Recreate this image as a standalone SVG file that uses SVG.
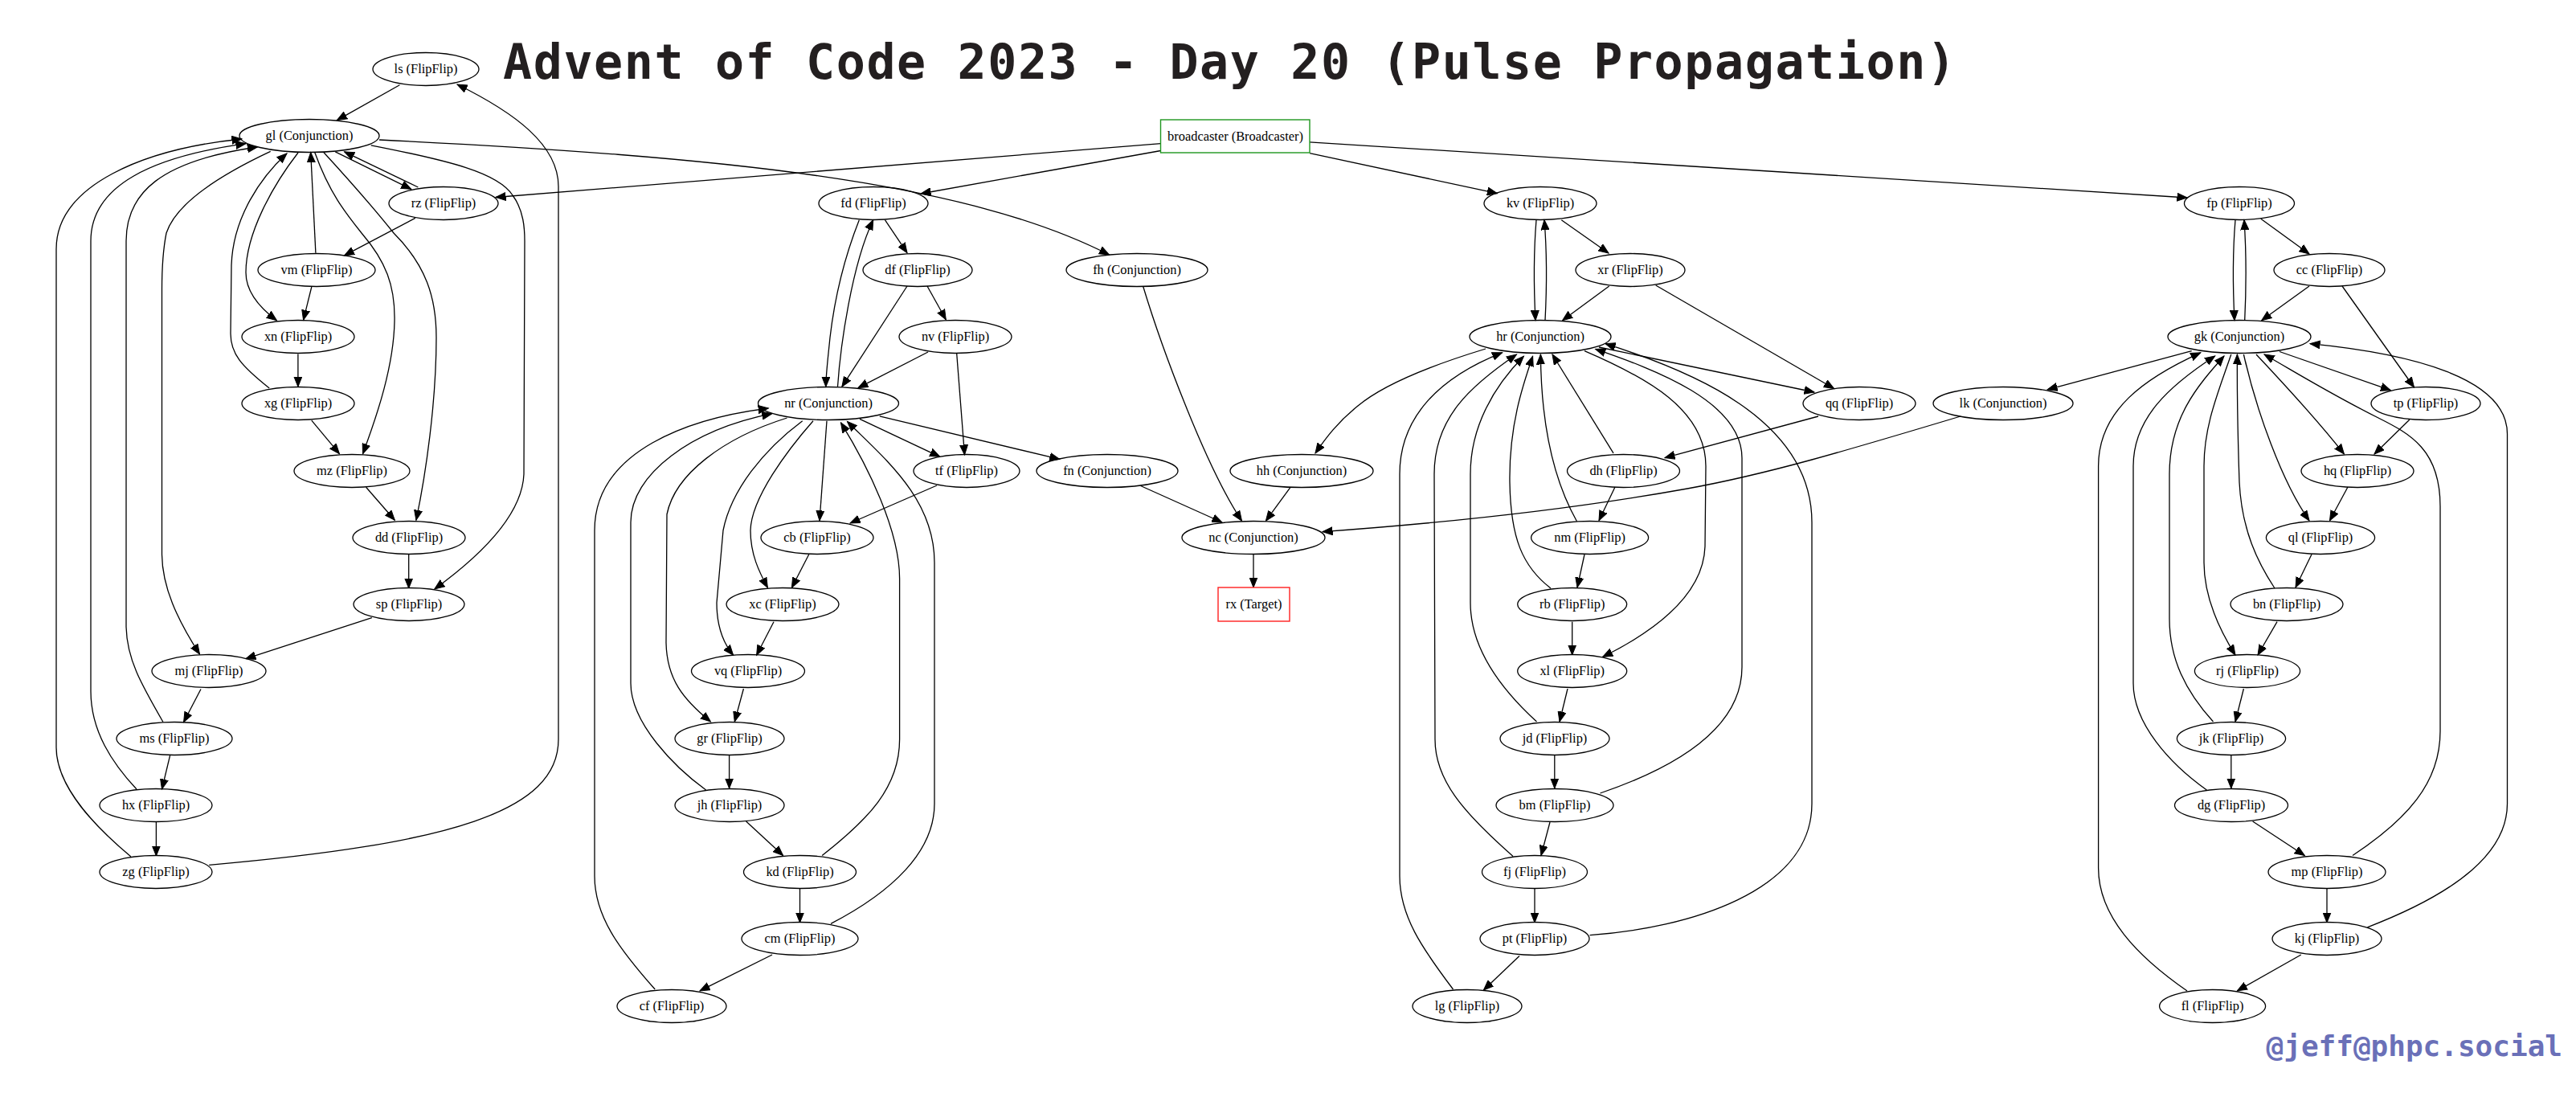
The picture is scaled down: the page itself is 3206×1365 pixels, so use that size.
<svg xmlns="http://www.w3.org/2000/svg" width="3206" height="1365" viewBox="0 0 3206 1365">
<style>
.node ellipse{fill:none;stroke:#000;stroke-width:1.3}
.node rect{fill:none;stroke-width:1.4}
.node text{font-family:"Liberation Serif","Times New Roman",serif;font-size:16.4px;text-anchor:middle;fill:#000}
.edges path{fill:none;stroke:#000;stroke-width:1.3;marker-end:url(#arrow)}
.title{font-family:"DejaVu Sans Mono","Liberation Mono",monospace;font-weight:bold;fill:#231f20}
</style>
<defs>
<marker id="arrow" markerUnits="userSpaceOnUse" markerWidth="14" markerHeight="11" refX="12.5" refY="5" orient="auto" viewBox="0 0 14 10">
<path d="M0,0 L12.5,5 L0,10 z" fill="#000" stroke="#000" stroke-width="1"/>
</marker>
</defs>
<rect x="0" y="0" width="3206" height="1365" fill="#fff"/>
<text class="title" x="626" y="97.5" font-size="60" textLength="1808" lengthAdjust="spacing">Advent of Code 2023 - Day 20 (Pulse Propagation)</text>
<text class="title" x="3189" y="1314" font-size="36" text-anchor="end" style="fill:#6a70b8">@jeff@phpc.social</text>

<g class="edges" id="edges">
<path id="e-ls-gl" d="M497.4,105.8 L419.4,149.6"/>
<path id="e-gl-rz" d="M417.3,188.8 L511.7,235.3"/>
<path id="e-rz-gl" d="M520.4,233 L428.6,188.8"/>
<path id="e-rz-vm" d="M516.8,271.4 L428.6,317.9"/>
<path id="e-vm-gl" d="M392.9,314.7 L386.7,189.7"/>
<path id="e-vm-xn" d="M387.8,357 L377.6,398.2"/>
<path id="e-gl-xn" d="M371,190 C340,230 306,290 306,339 C306,362 322,382 344.4,398.7"/>
<path id="e-xn-xg" d="M370.9,440.6 L370.9,481.2"/>
<path id="e-xg-gl" d="M335.2,483 C300,455 287,440 287,415 L288,330 C290,270 325,220 357,191"/>
<path id="e-xg-mz" d="M387.8,523.2 L422.4,564.7"/>
<path id="e-gl-mz" d="M391.8,189.7 C410,240 430,265 450,290 C480,325 492,355 491,400 C490,455 470,515 451.5,564.7"/>
<path id="e-gl-dd" d="M403,189.7 C440,230 470,265 490,290 C530,330 543,370 543,420 C543,500 530,590 517.9,647.3"/>
<path id="e-mz-dd" d="M455.6,606.2 L491.3,647.3"/>
<path id="e-dd-sp" d="M508.7,689.7 L508.7,732"/>
<path id="e-gl-sp" d="M461.7,180.8 C560,200 620,215 638,243 C652,262 653,285 653,300 L652,590 C650,640 600,690 540.8,733"/>
<path id="e-gl-mj" d="M336.7,188.4 C280,215 220,250 207,290 C202,315 201.5,340 201.5,360 L201.5,690 C202,730 220,770 248.5,814"/>
<path id="e-sp-mj" d="M462.8,768.6 L306,819.6"/>
<path id="e-mj-ms" d="M250,857.5 L228.6,898.5"/>
<path id="e-ms-gl" d="M203,898.5 C175,850 158,820 157,780 L157,300 C157,240 200,200 320.4,183"/>
<path id="e-ms-hx" d="M211.7,939.6 L201.5,982"/>
<path id="e-hx-gl" d="M170,982 C140,950 113,910 113,860 L113,300 C113,230 190,195 306,178.6"/>
<path id="e-hx-zg" d="M194.4,1023 L194.4,1065"/>
<path id="e-zg-gl" d="M163,1066 C120,1030 70,980 70,930 L70,310 C70,230 180,185 301,173"/>
<path id="e-zg-ls" d="M260.2,1076.4 C560,1050 695,1010 695,920 L695,232 C695,180 640,140 569,105"/>
<path id="e-gl-fh" d="M472,174 C900,195 1200,225 1380.4,317"/>
<path id="e-bc-rz" d="M1444.6,178.6 L617,245.5"/>
<path id="e-bc-fd" d="M1444.6,187.5 L1146,241"/>
<path id="e-bc-kv" d="M1630,190.6 L1863.4,240.6"/>
<path id="e-bc-fp" d="M1630,176.8 L2722,246"/>

<path id="e-fd-df" d="M1101.4,273.7 L1129,314.7"/>
<path id="e-fd-nr" d="M1069.3,273.7 C1055,310 1040,360 1033,420 C1030,450 1028,465 1027.8,481.2"/>
<path id="e-nr-fd" d="M1042.5,481.2 C1046,430 1060,330 1086.7,273.7"/>
<path id="e-df-nr" d="M1129,356 L1047.9,481.2"/>
<path id="e-df-nv" d="M1154,356 L1177.3,397.8"/>
<path id="e-nv-nr" d="M1155,438 L1068,482.6"/>
<path id="e-nv-tf" d="M1190.7,440 L1200.5,566"/>
<path id="e-nr-tf" d="M1070,521.4 L1169.7,568.3"/>
<path id="e-nr-fn" d="M1094.7,517.9 L1318.8,571.4"/>
<path id="e-nr-cb" d="M1029,523.7 L1020,647.8"/>
<path id="e-tf-cb" d="M1166,604 L1058,651"/>
<path id="e-cb-xc" d="M1006.8,689.7 L985.4,731.2"/>
<path id="e-nr-xc" d="M1012,523.7 C980,560 935,620 934,660 C934,690 945,712 955.4,731.2"/>
<path id="e-xc-vq" d="M963,773.7 L941.6,815.2"/>
<path id="e-nr-vq" d="M998.7,523.7 C950,560 910,610 900,660 L892,750 C892,780 900,800 912.6,815.2"/>
<path id="e-vq-gr" d="M925.4,857 L914.3,898"/>
<path id="e-nr-gr" d="M979.5,520 C900,545 840,590 830,640 L829,800 C830,845 850,870 884.4,898"/>
<path id="e-gr-jh" d="M907.6,939.5 L907.6,981"/>
<path id="e-jh-nr" d="M878.6,983 C840,955 785,900 785,850 L785,650 C785,590 860,535 960.8,514.7"/>
<path id="e-jh-kd" d="M928.6,1022 L974.6,1064.5"/>
<path id="e-kd-nr" d="M1023.2,1064.5 C1080,1020 1119.6,980 1119.6,920 L1119.6,720 C1119.6,660 1080,580 1046.5,525.9"/>
<path id="e-kd-cm" d="M995.5,1106 L995.5,1148"/>
<path id="e-cm-nr" d="M1034,1149.4 C1110,1110 1163,1060 1163,1000 L1163,700 C1163,620 1100,570 1054.5,524.5"/>
<path id="e-cm-cf" d="M961,1188 L871,1232.9"/>
<path id="e-cf-nr" d="M815.2,1231 C770,1180 740,1140 740,1090 L740,660 C740,560 860,520 956.3,508"/>
<path id="e-fh-nc" d="M1422.8,356.7 C1445,430 1500,580 1545.5,648.2"/>
<path id="e-fn-nc" d="M1419.6,604.5 L1521,650"/>
<path id="e-hh-nc" d="M1605.8,606.7 L1575.4,648.2"/>
<path id="e-nc-rx" d="M1560,689.3 L1560,731"/>
<path id="e-hr-hh" d="M1849,434 C1780,455 1720,480 1690,505 C1665,525 1650,545 1637,564"/>
<path id="e-lk-nc" d="M2440,518 C2300,560 2200,590 2100,608 C1950,635 1780,652 1646,661.6"/>

<path id="e-kv-hr" d="M1912,273.7 C1909,310 1909,360 1911,398.7"/>
<path id="e-hr-kv" d="M1923,398.7 C1925,360 1925,310 1922,273.7"/>
<path id="e-kv-xr" d="M1943.3,273.7 L2002,315"/>
<path id="e-xr-hr" d="M2002.7,356 L1944.6,398.7"/>
<path id="e-xr-qq" d="M2060.7,355 L2282.6,483.5"/>
<path id="e-hr-qq" d="M1990,432 L2258,488"/>
<path id="e-pt-hr" d="M1978.6,1163.6 C2100,1155 2255,1110 2255,1000 L2255,650 C2255,520 2100,460 1998,427.7"/>
<path id="e-bm-hr" d="M1991.5,987 C2100,950 2168,900 2168,830 L2168,570 C2168,500 2060,460 1985.7,434.4"/>
<path id="e-hr-xl" d="M1972,436.6 C2050,470 2123,510 2123,580 L2122,680 C2120,740 2060,785 1994.6,817.4"/>
<path id="e-qq-dh" d="M2263,518 L2072,569.6"/>
<path id="e-dh-hr" d="M2008,563.8 L1932,441"/>
<path id="e-dh-nm" d="M2010,606 L1990,647.8"/>
<path id="e-nm-hr" d="M1962.5,648.7 C1935,600 1918,530 1917.4,441"/>
<path id="e-nm-rb" d="M1972,690 L1963,731"/>
<path id="e-rb-hr" d="M1930,732 C1895,705 1880,670 1879,600 C1878,530 1895,480 1907.6,443.3"/>
<path id="e-rb-xl" d="M1956.7,773.7 L1956.7,815"/>
<path id="e-xl-jd" d="M1951,857 L1941,898"/>
<path id="e-jd-hr" d="M1912.5,898 C1860,850 1830,800 1830,750 L1830,590 C1830,530 1860,480 1896.4,443.3"/>
<path id="e-jd-bm" d="M1934.8,939.5 L1934.8,981"/>
<path id="e-bm-fj" d="M1929,1023 L1918,1064.5"/>
<path id="e-fj-hr" d="M1883,1065.4 C1820,1010 1786,970 1786,920 L1785,590 C1785,520 1830,480 1887.5,441"/>
<path id="e-fj-pt" d="M1910,1106 L1910,1148"/>
<path id="e-pt-lg" d="M1891,1189.5 L1846.4,1232"/>
<path id="e-lg-hr" d="M1808.5,1231 C1770,1180 1742,1140 1742,1090 L1742,590 C1742,520 1790,470 1869.6,438.8"/>

<path id="e-fp-gk" d="M2782,273.7 C2779,310 2779,360 2781,398.7"/>
<path id="e-gk-fp" d="M2793.7,398.7 C2795.5,360 2795.5,310 2793,273.7"/>
<path id="e-fp-cc" d="M2813.8,272.3 L2874,316"/>
<path id="e-cc-gk" d="M2874,356 L2814.7,398.7"/>
<path id="e-cc-tp" d="M2915,356 L3004.5,482"/>
<path id="e-gk-tp" d="M2837,437.5 L2975.4,485.7"/>
<path id="e-gk-lk" d="M2727.7,436.6 L2548,484.8"/>
<path id="e-gk-hq" d="M2808,441 C2840,475 2890,530 2917.4,565"/>
<path id="e-tp-hq" d="M2999,522 L2955,565"/>
<path id="e-hq-ql" d="M2922,606 L2899.5,647.8"/>
<path id="e-gk-ql" d="M2792.4,441 C2808,510 2840,600 2874,647.8"/>
<path id="e-ql-bn" d="M2877,689.7 L2857,731"/>
<path id="e-bn-gk" d="M2831,732 C2810,700 2790,660 2787,600 C2785,540 2784,500 2784.4,441"/>
<path id="e-bn-rj" d="M2834,773.7 L2810,815"/>
<path id="e-gk-rj" d="M2776.8,441 C2760,490 2743,530 2743,580 L2743,700 C2743,740 2760,780 2782,815"/>
<path id="e-rj-jk" d="M2792.4,857 L2782,898"/>
<path id="e-jk-gk" d="M2754.5,898 C2720,860 2700,820 2700,770 L2700,590 C2700,520 2735,480 2768,443"/>
<path id="e-jk-dg" d="M2776.8,939.5 L2776.8,981"/>
<path id="e-dg-gk" d="M2746.4,983 C2700,950 2655,900 2655,850 L2655,580 C2655,520 2700,480 2756.7,443"/>
<path id="e-dg-mp" d="M2803.6,1022 L2868.3,1064.5"/>
<path id="e-mp-gk" d="M2928,1064.5 C2995,1020 3037,975 3037,910 L3037,630 C3037,560 3000,540 2960,520 C2900,490 2860,465 2818,441"/>
<path id="e-mp-kj" d="M2896,1106 L2896,1148"/>
<path id="e-kj-gk" d="M2946.4,1153.8 C3060,1110 3120.5,1060 3120.5,1000 L3120.5,540 C3120.5,470 3000,440 2875,427.7"/>
<path id="e-kj-fl" d="M2863.8,1188 L2784.4,1232.9"/>
<path id="e-fl-gk" d="M2722,1233 C2660,1190 2611.6,1140 2611.6,1080 L2611.6,580 C2611.6,510 2670,470 2738.8,438.8"/>
</g>

<g class="node" id="node-ls"><ellipse cx="530" cy="86" rx="66" ry="20.5"/><text x="530" y="91">ls (FlipFlip)</text></g>
<g class="node" id="node-gl"><ellipse cx="385" cy="169" rx="87" ry="20.5"/><text x="385" y="174">gl (Conjunction)</text></g>
<g class="node" id="node-rz"><ellipse cx="552" cy="253" rx="68" ry="20.5"/><text x="552" y="258">rz (FlipFlip)</text></g>
<g class="node" id="node-vm"><ellipse cx="394" cy="336" rx="73" ry="20.5"/><text x="394" y="341">vm (FlipFlip)</text></g>
<g class="node" id="node-xn"><ellipse cx="371" cy="419" rx="70" ry="20.5"/><text x="371" y="424">xn (FlipFlip)</text></g>
<g class="node" id="node-xg"><ellipse cx="371" cy="502" rx="70" ry="20.5"/><text x="371" y="507">xg (FlipFlip)</text></g>
<g class="node" id="node-mz"><ellipse cx="438" cy="586" rx="72" ry="20.5"/><text x="438" y="591">mz (FlipFlip)</text></g>
<g class="node" id="node-dd"><ellipse cx="509" cy="669" rx="70" ry="20.5"/><text x="509" y="674">dd (FlipFlip)</text></g>
<g class="node" id="node-sp"><ellipse cx="509" cy="752" rx="69" ry="20.5"/><text x="509" y="757">sp (FlipFlip)</text></g>
<g class="node" id="node-mj"><ellipse cx="260" cy="835" rx="71" ry="20.5"/><text x="260" y="840">mj (FlipFlip)</text></g>
<g class="node" id="node-ms"><ellipse cx="217" cy="919" rx="72" ry="20.5"/><text x="217" y="924">ms (FlipFlip)</text></g>
<g class="node" id="node-hx"><ellipse cx="194" cy="1002" rx="70" ry="20.5"/><text x="194" y="1007">hx (FlipFlip)</text></g>
<g class="node" id="node-zg"><ellipse cx="194" cy="1085" rx="70" ry="20.5"/><text x="194" y="1090">zg (FlipFlip)</text></g>

<g class="node" id="node-broadcaster"><rect x="1444.5" y="149" width="185.5" height="41" style="stroke:#1f961f"/><text x="1537.5" y="174.5">broadcaster (Broadcaster)</text></g>
<g class="node" id="node-fd"><ellipse cx="1087" cy="253" rx="68" ry="20.5"/><text x="1087" y="258">fd (FlipFlip)</text></g>
<g class="node" id="node-df"><ellipse cx="1142" cy="336" rx="68" ry="20.5"/><text x="1142" y="341">df (FlipFlip)</text></g>
<g class="node" id="node-nv"><ellipse cx="1189" cy="419" rx="70" ry="20.5"/><text x="1189" y="424">nv (FlipFlip)</text></g>
<g class="node" id="node-nr"><ellipse cx="1031" cy="502" rx="87.5" ry="20.5"/><text x="1031" y="507">nr (Conjunction)</text></g>
<g class="node" id="node-tf"><ellipse cx="1203" cy="586" rx="66" ry="20.5"/><text x="1203" y="591">tf (FlipFlip)</text></g>
<g class="node" id="node-fn"><ellipse cx="1378" cy="586" rx="88" ry="20.5"/><text x="1378" y="591">fn (Conjunction)</text></g>
<g class="node" id="node-fh"><ellipse cx="1415" cy="336" rx="88" ry="20.5"/><text x="1415" y="341">fh (Conjunction)</text></g>
<g class="node" id="node-cb"><ellipse cx="1017" cy="669" rx="70" ry="20.5"/><text x="1017" y="674">cb (FlipFlip)</text></g>
<g class="node" id="node-xc"><ellipse cx="974" cy="752" rx="70" ry="20.5"/><text x="974" y="757">xc (FlipFlip)</text></g>
<g class="node" id="node-vq"><ellipse cx="931" cy="835" rx="70.5" ry="20.5"/><text x="931" y="840">vq (FlipFlip)</text></g>
<g class="node" id="node-gr"><ellipse cx="908" cy="919" rx="68" ry="20.5"/><text x="908" y="924">gr (FlipFlip)</text></g>
<g class="node" id="node-jh"><ellipse cx="908" cy="1002" rx="68" ry="20.5"/><text x="908" y="1007">jh (FlipFlip)</text></g>
<g class="node" id="node-kd"><ellipse cx="995.5" cy="1085" rx="70" ry="20.5"/><text x="995.5" y="1090">kd (FlipFlip)</text></g>
<g class="node" id="node-cm"><ellipse cx="995.5" cy="1168" rx="72.5" ry="20.5"/><text x="995.5" y="1173">cm (FlipFlip)</text></g>
<g class="node" id="node-cf"><ellipse cx="836" cy="1252" rx="68" ry="20.5"/><text x="836" y="1257">cf (FlipFlip)</text></g>
<g class="node" id="node-hh"><ellipse cx="1620" cy="586" rx="89" ry="20.5"/><text x="1620" y="591">hh (Conjunction)</text></g>
<g class="node" id="node-nc"><ellipse cx="1560" cy="669" rx="89" ry="20.5"/><text x="1560" y="674">nc (Conjunction)</text></g>
<g class="node" id="node-rx"><rect x="1516" y="731" width="89" height="42" style="stroke:#ff2020"/><text x="1560.5" y="757">rx (Target)</text></g>

<g class="node" id="node-kv"><ellipse cx="1917" cy="253" rx="70" ry="20.5"/><text x="1917" y="258">kv (FlipFlip)</text></g>
<g class="node" id="node-xr"><ellipse cx="2029" cy="336" rx="68" ry="20.5"/><text x="2029" y="341">xr (FlipFlip)</text></g>
<g class="node" id="node-hr"><ellipse cx="1917" cy="419" rx="88" ry="20.5"/><text x="1917" y="424">hr (Conjunction)</text></g>
<g class="node" id="node-qq"><ellipse cx="2314" cy="502" rx="70" ry="20.5"/><text x="2314" y="507">qq (FlipFlip)</text></g>
<g class="node" id="node-dh"><ellipse cx="2020.5" cy="586" rx="70" ry="20.5"/><text x="2020.5" y="591">dh (FlipFlip)</text></g>
<g class="node" id="node-nm"><ellipse cx="1978.6" cy="669" rx="73" ry="20.5"/><text x="1978.6" y="674">nm (FlipFlip)</text></g>
<g class="node" id="node-rb"><ellipse cx="1956.7" cy="752" rx="68" ry="20.5"/><text x="1956.7" y="757">rb (FlipFlip)</text></g>
<g class="node" id="node-xl"><ellipse cx="1956.7" cy="835" rx="68" ry="20.5"/><text x="1956.7" y="840">xl (FlipFlip)</text></g>
<g class="node" id="node-jd"><ellipse cx="1935" cy="919" rx="68" ry="20.5"/><text x="1935" y="924">jd (FlipFlip)</text></g>
<g class="node" id="node-bm"><ellipse cx="1935" cy="1002" rx="73" ry="20.5"/><text x="1935" y="1007">bm (FlipFlip)</text></g>
<g class="node" id="node-fj"><ellipse cx="1910" cy="1085" rx="65.5" ry="20.5"/><text x="1910" y="1090">fj (FlipFlip)</text></g>
<g class="node" id="node-pt"><ellipse cx="1910" cy="1168" rx="68" ry="20.5"/><text x="1910" y="1173">pt (FlipFlip)</text></g>
<g class="node" id="node-lg"><ellipse cx="1826" cy="1252" rx="68" ry="20.5"/><text x="1826" y="1257">lg (FlipFlip)</text></g>

<g class="node" id="node-fp"><ellipse cx="2787" cy="253" rx="68.5" ry="20.5"/><text x="2787" y="258">fp (FlipFlip)</text></g>
<g class="node" id="node-cc"><ellipse cx="2899" cy="336" rx="69" ry="20.5"/><text x="2899" y="341">cc (FlipFlip)</text></g>
<g class="node" id="node-gk"><ellipse cx="2787" cy="419" rx="89" ry="20.5"/><text x="2787" y="424">gk (Conjunction)</text></g>
<g class="node" id="node-lk"><ellipse cx="2493" cy="502" rx="87" ry="20.5"/><text x="2493" y="507">lk (Conjunction)</text></g>
<g class="node" id="node-tp"><ellipse cx="3019" cy="502" rx="68" ry="20.5"/><text x="3019" y="507">tp (FlipFlip)</text></g>
<g class="node" id="node-hq"><ellipse cx="2934" cy="586" rx="70" ry="20.5"/><text x="2934" y="591">hq (FlipFlip)</text></g>
<g class="node" id="node-ql"><ellipse cx="2888" cy="669" rx="67.6" ry="20.5"/><text x="2888" y="674">ql (FlipFlip)</text></g>
<g class="node" id="node-bn"><ellipse cx="2846" cy="752" rx="70" ry="20.5"/><text x="2846" y="757">bn (FlipFlip)</text></g>
<g class="node" id="node-rj"><ellipse cx="2797" cy="835" rx="65.6" ry="20.5"/><text x="2797" y="840">rj (FlipFlip)</text></g>
<g class="node" id="node-jk"><ellipse cx="2777" cy="919" rx="67.6" ry="20.5"/><text x="2777" y="924">jk (FlipFlip)</text></g>
<g class="node" id="node-dg"><ellipse cx="2777" cy="1002" rx="70.5" ry="20.5"/><text x="2777" y="1007">dg (FlipFlip)</text></g>
<g class="node" id="node-mp"><ellipse cx="2896" cy="1085" rx="73" ry="20.5"/><text x="2896" y="1090">mp (FlipFlip)</text></g>
<g class="node" id="node-kj"><ellipse cx="2896" cy="1168" rx="68" ry="20.5"/><text x="2896" y="1173">kj (FlipFlip)</text></g>
<g class="node" id="node-fl"><ellipse cx="2753.6" cy="1252" rx="66" ry="20.5"/><text x="2753.6" y="1257">fl (FlipFlip)</text></g>
</svg>
